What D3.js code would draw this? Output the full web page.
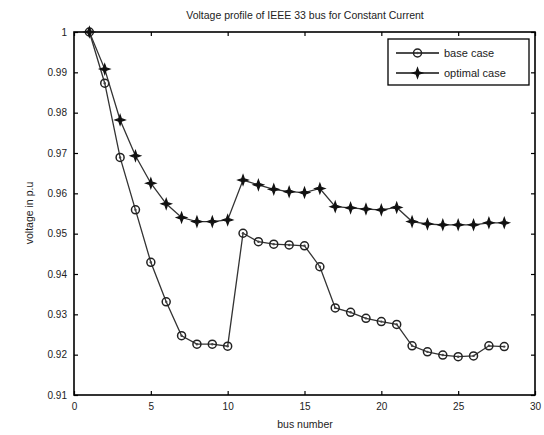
<!DOCTYPE html>
<html><head><meta charset="utf-8">
<script src="https://cdn.jsdelivr.net/npm/d3@7"></script>
<style>body{margin:0;background:#fff;} text{font-family:"Liberation Sans",Arial,sans-serif;fill:#222;}</style>
</head><body>
<svg id="c" width="544" height="435"></svg>
<script>
const buses = d3.range(1, 29);
const baseCase = [1.0,0.9873,0.9689,0.9559,0.9429,0.9331,0.9247,0.9226,0.9226,0.9221,
  0.9501,0.948,0.9474,0.9472,0.947,0.9418,0.9316,0.9305,0.929,0.9282,0.9275,
  0.9222,0.9207,0.9199,0.9195,0.9197,0.9222,0.922];
const optimalCase = [1.0,0.9908,0.9782,0.9693,0.9625,0.9574,0.954,0.953,0.953,0.9534,
  0.9633,0.9621,0.961,0.9604,0.9602,0.9612,0.9567,0.9564,0.9561,0.9559,0.9565,
  0.953,0.9524,0.9522,0.9522,0.9522,0.9527,0.9527];
const xTicks = [0,5,10,15,20,25,30];
const yTicks = [0.91,0.92,0.93,0.94,0.95,0.96,0.97,0.98,0.99,1];
const seriesNames = ["base case","optimal case"];

const svg = d3.select("#c");
const L=74,R=535,T=32,B=395;
const x = d3.scaleLinear().domain([0,30]).range([L,R]);
const y = d3.scaleLinear().domain([0.91,1]).range([B,T]);

// axes with inward ticks
const tl = 4;
svg.append("g").attr("transform",`translate(0,${B})`)
  .call(d3.axisBottom(x).tickValues(xTicks).tickSize(-tl).tickPadding(8).tickFormat(d3.format("d")))
  .call(g=>{g.select(".domain").remove();g.selectAll("text").attr("font-size",10).attr("fill","#223");});
svg.append("g").attr("transform",`translate(0,${T})`)
  .call(d3.axisTop(x).tickValues(xTicks).tickSize(-tl).tickFormat(""))
  .call(g=>g.select(".domain").remove());
svg.append("g").attr("transform",`translate(${L},0)`)
  .call(d3.axisLeft(y).tickValues(yTicks).tickSize(-tl).tickPadding(7).tickFormat(d=>d===1?"1":d3.format(".2f")(d)))
  .call(g=>{g.select(".domain").remove();g.selectAll("text").attr("font-size",10).attr("fill","#223");});
svg.append("g").attr("transform",`translate(${R},0)`)
  .call(d3.axisRight(y).tickValues(yTicks).tickSize(-tl).tickFormat(""))
  .call(g=>g.select(".domain").remove());
svg.selectAll(".tick line").attr("stroke","#000").attr("stroke-width",1.2);
svg.append("rect").attr("x",L).attr("y",T).attr("width",R-L).attr("height",B-T)
  .attr("fill","none").attr("stroke","#000").attr("stroke-width",1.6);

const line = d3.line().x((d,i)=>x(buses[i])).y(d=>y(d));
const starPath = "M0,-5L1.3,-1.3L5,0L1.3,1.3L0,5L-1.3,1.3L-5,0L-1.3,-1.3Z";

function drawSeries(data, type){
  svg.append("path").datum(data).attr("d",line).attr("fill","none")
    .attr("stroke","#333").attr("stroke-width",1.3);
  const g = svg.append("g");
  data.forEach((d,i)=>drawMarker(g, x(buses[i]), y(d), type));
}
function drawMarker(g, cx, cy, type){
  if(type==="o"){
    g.append("circle").attr("cx",cx).attr("cy",cy).attr("r",4).attr("fill","none")
      .attr("stroke","#222").attr("stroke-width",1.5);
    g.append("circle").attr("cx",cx).attr("cy",cy).attr("r",1.2).attr("fill","#444");
  } else {
    g.append("path").attr("transform",`translate(${cx},${cy})`).attr("d",starPath)
      .attr("fill","#111").attr("stroke","#111").attr("stroke-width",1.2);
  }
}
drawSeries(baseCase,"o");
drawSeries(optimalCase,"*");

// legend
const lg = svg.append("g");
lg.append("rect").attr("x",388).attr("y",39).attr("width",141).attr("height",46)
  .attr("fill","#fff").attr("stroke","#000").attr("stroke-width",1.3);
[["o",53],["*",73]].forEach(([t,ly],i)=>{
  lg.append("line").attr("x1",396).attr("x2",439).attr("y1",ly).attr("y2",ly)
    .attr("stroke","#111").attr("stroke-width",1.3);
  drawMarker(lg,417.5,ly,t);
  lg.append("text").attr("x",444).attr("y",ly+4).attr("font-size",11).text(seriesNames[i]);
});

svg.append("text").attr("x",305).attr("y",19).attr("text-anchor","middle").attr("font-size",10.5)
  .text("Voltage profile of IEEE 33 bus for Constant Current");
svg.append("text").attr("x",305).attr("y",428).attr("text-anchor","middle").attr("font-size",10.5)
  .text("bus number");
svg.append("text").attr("transform","translate(33,213) rotate(-90)").attr("text-anchor","middle")
  .attr("font-size",10.5).text("voltage in p.u");
</script>
</body></html>
